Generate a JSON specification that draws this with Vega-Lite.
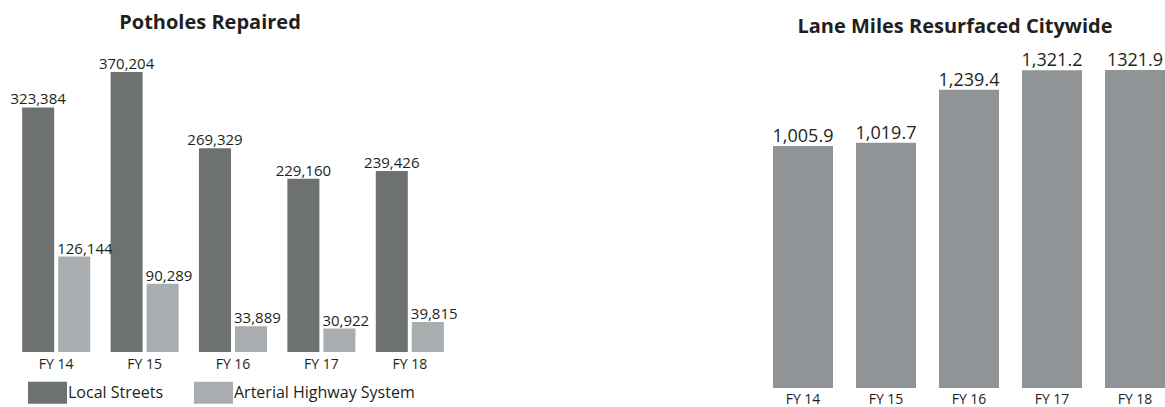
{
  "$schema": "https://vega.github.io/schema/vega-lite/v6.json",
  "autosize": {"type": "pad"},
  "padding": {"left": 10, "top": 12, "right": 0, "bottom": 0},
  "bounds": "flush",
  "spacing": 319,
  "config": {
    "view": {"stroke": null},
    "font": "Open Sans",
    "title": {"font": "Open Sans", "fontWeight": "bold", "color": "#231f20"},
    "axis": {"domain": false, "ticks": false, "grid": false, "title": null, "labelFont": "Open Sans", "labelColor": "#231f20", "labelFontSize": 14, "labelAngle": 0}
  },
  "datasets": {
    "potholes": [
      {"year": "FY 14", "type": "Local Streets", "value": 323384},
      {"year": "FY 14", "type": "Arterial Highway System", "value": 126144},
      {"year": "FY 15", "type": "Local Streets", "value": 370204},
      {"year": "FY 15", "type": "Arterial Highway System", "value": 90289},
      {"year": "FY 16", "type": "Local Streets", "value": 269329},
      {"year": "FY 16", "type": "Arterial Highway System", "value": 33889},
      {"year": "FY 17", "type": "Local Streets", "value": 229160},
      {"year": "FY 17", "type": "Arterial Highway System", "value": 30922},
      {"year": "FY 18", "type": "Local Streets", "value": 239426},
      {"year": "FY 18", "type": "Arterial Highway System", "value": 39815}
    ],
    "lanes": [
      {"year": "FY 14", "value": 1005.9, "label": "1,005.9"},
      {"year": "FY 15", "value": 1019.7, "label": "1,019.7"},
      {"year": "FY 16", "value": 1239.4, "label": "1,239.4"},
      {"year": "FY 17", "value": 1321.2, "label": "1,321.2"},
      {"year": "FY 18", "value": 1321.9, "label": "1321.9"}
    ]
  },
  "hconcat": [
    {
      "width": 442,
      "height": 282,
      "title": {"text": "Potholes Repaired", "fontSize": 20, "offset": 24, "dx": -23},
      "data": {"name": "potholes"},
      "encoding": {
        "x": {"field": "year", "type": "nominal", "sort": null, "scale": {"paddingInner": 0.23, "paddingOuter": 0.115}, "axis": {"labelPadding": 5}},
        "xOffset": {"field": "type", "type": "nominal", "sort": ["Local Streets", "Arterial Highway System"], "scale": {"domain": ["Local Streets", "Arterial Highway System"], "paddingInner": 0.111, "paddingOuter": 0}},
        "y": {"field": "value", "type": "quantitative", "scale": {"domain": [0, 372848], "nice": false}, "axis": null}
      },
      "layer": [
        {
          "mark": {"type": "bar"},
          "encoding": {
            "color": {"field": "type", "type": "nominal", "sort": ["Local Streets", "Arterial Highway System"],
              "scale": {"domain": ["Local Streets", "Arterial Highway System"], "range": ["#6d7271", "#a9adb0"]},
              "legend": {"title": null, "orient": "none", "legendX": 16, "legendY": 303, "direction": "horizontal",
                "symbolType": "M-1,-0.564H1V0.564H-1Z", "symbolSize": 1521, "symbolStrokeWidth": 0, "symbolOpacity": 1,
                "labelFontSize": 16, "labelFont": "Open Sans", "labelColor": "#231f20", "labelOffset": 1, "labelLimit": 400, "columnPadding": 30}}
          }
        },
        {
          "transform": [{"filter": "datum.type === 'Local Streets'"}],
          "mark": {"type": "text", "baseline": "alphabetic", "dy": -3, "fontSize": 15, "color": "#231f20"},
          "encoding": {"text": {"field": "value", "type": "quantitative", "format": ","}}
        },
        {
          "transform": [{"filter": "datum.type === 'Arterial Highway System'"}],
          "mark": {"type": "text", "baseline": "alphabetic", "align": "left", "dx": -17, "dy": -3, "fontSize": 15, "color": "#231f20"},
          "encoding": {"text": {"field": "value", "type": "quantitative", "format": ","}}
        }
      ]
    },
    {
      "width": 392,
      "height": 318,
      "title": {"text": "Lane Miles Resurfaced Citywide", "fontSize": 20, "offset": 15, "dx": -14},
      "data": {"name": "lanes"},
      "encoding": {
        "x": {"field": "year", "type": "nominal", "sort": null, "scale": {"paddingInner": 0.277, "paddingOuter": 0}, "axis": {"labelPadding": 4}},
        "y": {"field": "value", "type": "quantitative", "scale": {"domain": [0, 1321.9], "nice": false}, "axis": null}
      },
      "layer": [
        {"mark": {"type": "bar", "color": "#919497"}},
        {
          "mark": {"type": "text", "baseline": "alphabetic", "dy": -4, "fontSize": 18, "color": "#231f20"},
          "encoding": {"text": {"field": "label", "type": "nominal"}}
        }
      ]
    }
  ]
}
